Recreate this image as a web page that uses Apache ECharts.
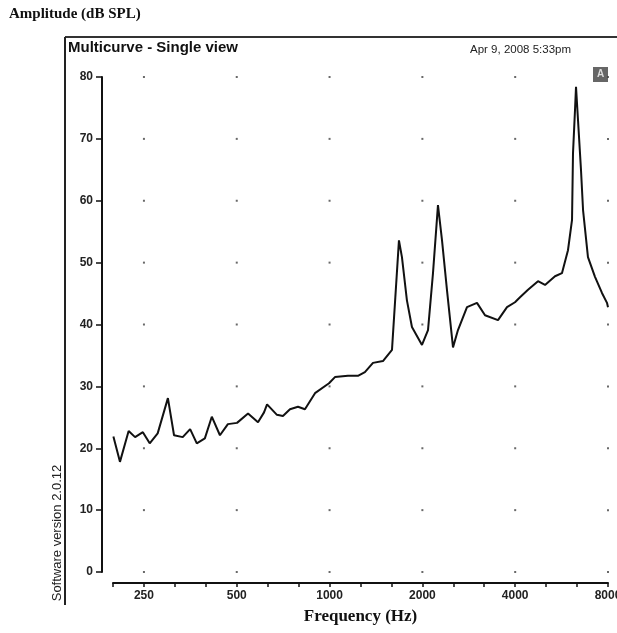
<!DOCTYPE html>
<html>
<head>
<meta charset="utf-8">
<script src="https://cdn.jsdelivr.net/npm/echarts@6/dist/echarts.min.js"></script>
<style>
  html, body { margin: 0; padding: 0; background: #fff; }
  #main { width: 617px; height: 633px; }
</style>
</head>
<body>
<div id="main"></div>
<script>
// frequency (Hz) and level (dB SPL)
var freqs = [199, 209, 223, 234, 248, 261, 277, 299, 313, 334,
             353, 371, 394, 415, 441, 468, 501, 544, 586, 613,
             627, 675, 706, 744, 790, 832, 897, 996, 1041, 1147,
             1236, 1302, 1383, 1490, 1594, 1679, 1717, 1782, 1850, 1994,
             2086, 2165, 2247, 2316, 2403, 2514, 2609, 2791, 3007, 3193,
             3518, 3763, 3994, 4147, 4402, 4743, 4998, 5385, 5672, 5933,
             6115, 6160, 6252, 6300, 6395, 6540, 6640, 6888, 7260, 7648,
             7940, 8000];
var levels = [21.9, 17.8, 22.8, 21.8, 22.6, 20.8, 22.4, 28.1, 22.1, 21.8,
              23.1, 20.8, 21.6, 25.1, 22.1, 23.9, 24.1, 25.6, 24.2, 25.8,
              27.1, 25.4, 25.2, 26.3, 26.7, 26.3, 28.9, 30.5, 31.5, 31.7,
              31.7, 32.3, 33.8, 34.1, 35.9, 53.6, 50.9, 43.9, 39.6, 36.7,
              39.1, 48.3, 59.3, 53.6, 45.6, 36.3, 39.1, 42.8, 43.5, 41.5,
              40.7, 42.8, 43.6, 44.4, 45.6, 47.0, 46.4, 47.8, 48.3, 52.0,
              56.9, 67.7, 74.6, 78.4, 73.0, 64.9, 58.5, 50.9, 47.7, 45.1,
              43.5, 42.8];

// tick labels / grid dot positions
var octaveTicks = [250, 500, 1000, 2000, 4000, 8000];
var levelTicks = [0, 10, 20, 30, 40, 50, 60, 70, 80];

// x axis is in octaves re 1 kHz
function oct(f) { return Math.log2(f / 1000); }

var curve = [];
for (var i = 0; i < freqs.length; i++) {
  curve.push([oct(freqs[i]), levels[i]]);
}

var dots = [];
octaveTicks.forEach(function(f) {
  levelTicks.forEach(function(l) {
    dots.push([oct(f), l]);
  });
});

var myChart = echarts.init(document.getElementById('main'));

var option = {
  backgroundColor: '#fff',
  animation: false,
  title: {
    text: 'Amplitude (dB SPL)',
    left: 4,
    top: 2,
    textStyle: {
      fontFamily: 'Liberation Serif',
      fontWeight: 'bold',
      fontSize: 15,
      color: '#111'
    }
  },
  grid: {
    left: 113,
    right: 9,
    top: 77,
    bottom: 61,
    outerBoundsMode: 'none'
  },
  xAxis: {
    type: 'value',
    min: -7 / 3,
    max: 3,
    interval: 1 / 3,
    offset: 11,
    name: 'Frequency (Hz)',
    nameLocation: 'middle',
    nameGap: 25,
    nameTextStyle: {
      fontFamily: 'Liberation Serif',
      fontWeight: 'bold',
      fontSize: 17,
      color: '#111'
    },
    axisLine: { show: true, onZero: false, lineStyle: { color: '#111', width: 2 } },
    axisTick: { show: true, length: 4, lineStyle: { color: '#111', width: 1.5 } },
    splitLine: { show: false },
    axisLabel: {
      margin: 7,
      fontFamily: 'Liberation Sans',
      fontWeight: 'bold',
      fontSize: 12,
      color: '#222',
      showMinLabel: true,
      showMaxLabel: true,
      formatter: function(v) {
        var r = Math.round(v);
        if (Math.abs(v - r) > 1e-6) return '';
        return String(Math.round(1000 * Math.pow(2, r)));
      }
    }
  },
  yAxis: {
    type: 'value',
    min: 0,
    max: 80,
    interval: 10,
    offset: 11,
    axisLine: { show: true, onZero: false, lineStyle: { color: '#111', width: 2 } },
    axisTick: { show: true, length: 6, lineStyle: { color: '#111', width: 1.5 } },
    splitLine: { show: false },
    axisLabel: {
      margin: 9,
      fontFamily: 'Liberation Sans',
      fontWeight: 'bold',
      fontSize: 12,
      color: '#222'
    }
  },
  series: [
    {
      type: 'scatter',
      data: dots,
      symbol: 'rect',
      symbolSize: 2,
      itemStyle: { color: '#444' },
      silent: true
    },
    {
      type: 'line',
      data: curve,
      showSymbol: false,
      lineStyle: { color: '#111', width: 2 }
    }
  ],
  graphic: [
    // frame
    { type: 'line', shape: { x1: 65, y1: 37, x2: 617, y2: 37 }, style: { stroke: '#333', lineWidth: 2 } },
    { type: 'line', shape: { x1: 65, y1: 37, x2: 65, y2: 605 }, style: { stroke: '#222', lineWidth: 2 } },
    {
      type: 'text', left: 68, top: 40,
      style: { text: 'Multicurve - Single view', font: 'bold 15px "Liberation Sans"', fill: '#111' }
    },
    {
      type: 'text', left: 470, top: 44,
      style: { text: 'Apr 9, 2008 5:33pm', font: '11.5px "Liberation Sans"', fill: '#222' }
    },
    { type: 'rect', shape: { x: 593, y: 67, width: 15, height: 15 }, style: { fill: '#666' } },
    {
      type: 'text', x: 600.5, y: 74.5,
      style: { text: 'A', font: 'bold 10px "Liberation Sans"', fill: '#ddd', align: 'center', verticalAlign: 'middle' }
    },
    {
      type: 'text', x: 57, y: 533, rotation: Math.PI / 2,
      style: { text: 'Software version 2.0.12', font: '13px "Liberation Sans"', fill: '#222', align: 'center', verticalAlign: 'middle' }
    }
  ]
};

myChart.setOption(option);
</script>
</body>
</html>
